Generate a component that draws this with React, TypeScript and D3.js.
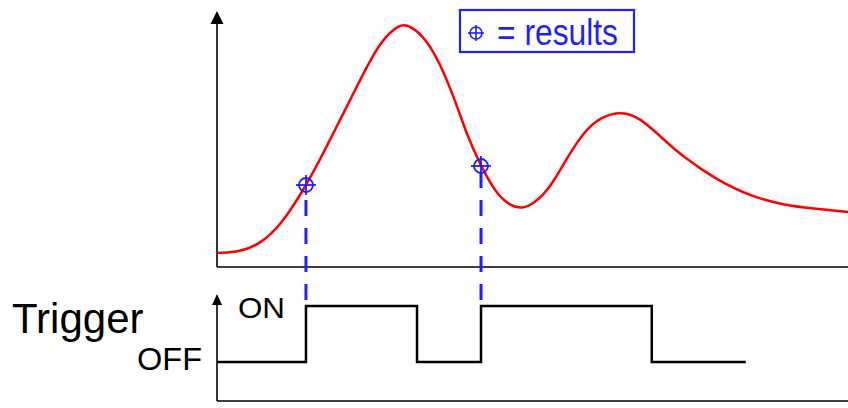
import React from "react";
import * as d3 from "d3";

// signal curve (time 0..100, value 0..100)
const signalTimes = [0.16, 3.65, 6.81, 9.98, 13.15, 16.32, 19.49, 22.66, 25.83, 28.21, 29.48, 30.9, 32.96, 35.34, 37.72, 39.78, 41.84, 44.06, 46.43, 48.34, 50.4, 52.77, 55.47, 58.0, 60.7, 64.18, 67.04, 70.21, 73.85, 79.24, 84.47, 89.7, 95.09, 100];
const signalValues = [5.6, 6.0, 9.2, 16.4, 28.4, 42.8, 58.8, 74.8, 90.0, 95.6, 97.2, 96.0, 91.6, 81.6, 66.8, 51.6, 40.4, 30.0, 24.4, 23.2, 25.6, 31.6, 43.6, 53.6, 60.0, 62.4, 59.6, 52.4, 44.0, 34.8, 28.4, 24.8, 23.2, 22.0];

// results (trigger rising edges)
const resultTimes = [14.1, 41.84];
const resultValues = [32.8, 40.4];

// trigger states
const triggerTimes = [0, 14.1, 31.7, 41.84, 68.9, 83.8];
const triggerStates = [0, 1, 0, 1, 0, 0];
const triggerLabels = ["OFF", "ON"];

const legendLabel = "= results";
const triggerTitle = "Trigger";

const W = 848;
const H = 408;
const BLUE = "#1f1fff";

export default function App() {
  const x = d3.scaleLinear().domain([0, 100]).range([217, 848]);
  const y = d3.scaleLinear().domain([0, 100]).range([267, 17]);
  const yT = d3.scaleLinear().domain([0, 1]).range([362, 306]);

  const sig = signalTimes.map((t, i) => [t, signalValues[i]] as [number, number]);
  const sigLine = d3
    .line<[number, number]>()
    .x((d) => x(d[0]))
    .y((d) => y(d[1]))
    .curve(d3.curveBasis);

  const trig = triggerTimes.map((t, i) => [t, triggerStates[i]] as [number, number]);
  const trigLine = d3
    .line<[number, number]>()
    .x((d) => x(d[0]))
    .y((d) => yT(d[1]))
    .curve(d3.curveStepAfter);

  const period = 28;
  const origin = 172;

  const marker = (cx: number, cy: number, key: string, r = 7, ext = 10, sw = 1.8) => (
    <g key={key} stroke={BLUE} strokeWidth={sw} fill="none">
      <circle cx={cx} cy={cy} r={r} />
      <line x1={cx - ext} x2={cx + ext} y1={cy} y2={cy} />
      <line x1={cx} x2={cx} y1={cy - ext} y2={cy + ext} />
    </g>
  );

  return (
    <svg
      width={W}
      height={H}
      style={{ position: "absolute", left: 0, top: 0, background: "#fff" }}
      fontFamily="'Liberation Sans', Arial, sans-serif"
    >
      {/* upper axes */}
      <line x1={x(0)} x2={x(0)} y1={y(0)} y2={24} stroke="#000" strokeWidth={1.6} />
      <path d={`M${x(0)},11 L${x(0) - 6.5},24 L${x(0) + 6.5},24 Z`} fill="#000" />
      <line x1={x(0)} x2={W} y1={y(0)} y2={y(0)} stroke="#000" strokeWidth={1.6} />

      {/* dashed result lines */}
      {resultTimes.map((t, i) => {
        const cy = y(resultValues[i]);
        const start = cy + 6;
        const off = (((start - origin) % period) + period) % period;
        return (
          <line
            key={"d" + i}
            x1={x(t)}
            x2={x(t)}
            y1={start}
            y2={yT(1)}
            stroke={BLUE}
            strokeWidth={3}
            strokeDasharray="16,12"
            strokeDashoffset={off}
          />
        );
      })}

      {/* signal */}
      <path d={sigLine(sig) || ""} fill="none" stroke="#ff0000" strokeWidth={2.5} />

      {/* markers */}
      {resultTimes.map((t, i) => marker(x(t), y(resultValues[i]), "m" + i))}

      {/* legend */}
      <rect x={460} y={10} width={174} height={42} fill="#fff" stroke={BLUE} strokeWidth={2.2} />
      {marker(476, 33, "lg", 6, 8, 1.6)}
      <text x={497} y={45} fontSize={36} fill={BLUE} textLength={121} lengthAdjust="spacingAndGlyphs">
        {legendLabel}
      </text>

      {/* trigger axes */}
      <line x1={x(0)} x2={x(0)} y1={401} y2={304} stroke="#000" strokeWidth={1.6} />
      <path d={`M${x(0)},294 L${x(0) - 5},305 L${x(0) + 5},305 Z`} fill="#000" />
      <line x1={x(0)} x2={W} y1={401} y2={401} stroke="#000" strokeWidth={1.6} />

      {/* trigger signal */}
      <path d={trigLine(trig) || ""} fill="none" stroke="#000" strokeWidth={2.5} />

      {/* trigger labels */}
      <text x={12} y={333} fontSize={42} fill="#000">
        {triggerTitle}
      </text>
      <text x={238} y={318} fontSize={30} fill="#000" textLength={47} lengthAdjust="spacingAndGlyphs">
        {triggerLabels[1]}
      </text>
      <text x={137} y={370} fontSize={31} fill="#000" textLength={65} lengthAdjust="spacingAndGlyphs">
        {triggerLabels[0]}
      </text>
    </svg>
  );
}
